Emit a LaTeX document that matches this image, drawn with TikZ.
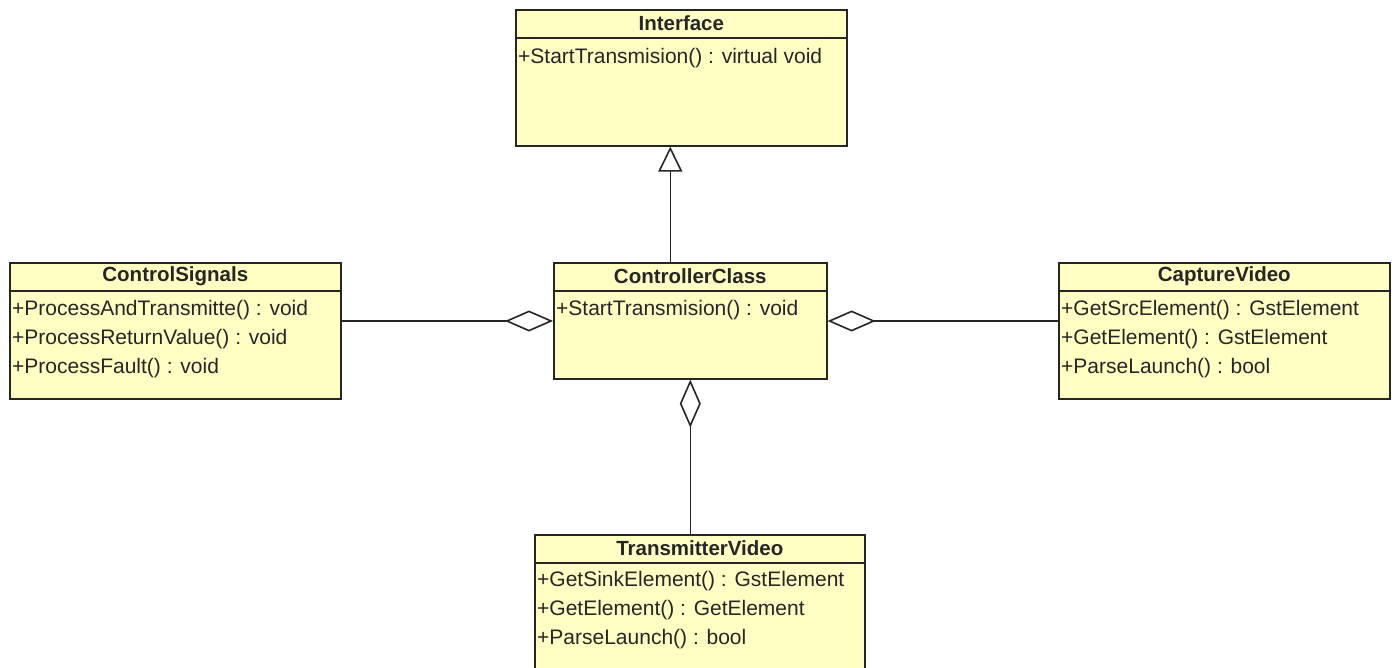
\documentclass[tikz,border=0pt]{standalone}
\usepackage{fontspec}
\setmainfont{Liberation Sans}
\usetikzlibrary{arrows.meta}
\definecolor{umlfill}{HTML}{FFFFC4}
\definecolor{umlline}{HTML}{262626}
\begin{document}
\begin{tikzpicture}[x=1pt,y=-1pt,
  classbox/.style={draw=umlline, fill=umlfill, line width=1.6pt, inner sep=0pt, anchor=north west},
  classtitle/.style={font=\fontsize{20.5}{24}\selectfont\bfseries, text=umlline, inner sep=0pt, anchor=center},
  member/.style={font=\fontsize{21}{24}\selectfont, text=umlline, inner sep=0pt, anchor=west},
  divider/.style={draw=umlline, line width=1.6pt},
  conn/.style={draw=umlline, line width=1.6pt},
  aggregation/.style={conn, {Diamond[open, length=48pt, width=21pt, line width=1.6pt]}-},
  generalization/.style={conn, -{Triangle[open, length=25pt, width=24pt, line width=1.6pt]}}
]
\fill[white] (0,0) rectangle (1395,667);
\clip (0,0) rectangle (1395,667);

% Interface
\node[classbox, minimum width=331pt, minimum height=136pt] (iface) at (515,9) {};
\draw[divider] ([yshift=-29pt]iface.north west) -- ([yshift=-29pt]iface.north east);
\node[classtitle] at ([yshift=-14.5pt]iface.north) {Interface};
\node[member] at ([xshift=3pt,yshift=-49pt]iface.north west) {+StartTransmision() : virtual void};

% ControlSignals
\node[classbox, minimum width=331pt, minimum height=136pt] (cs) at (9,262) {};
\draw[divider] ([yshift=-29pt]cs.north west) -- ([yshift=-29pt]cs.north east);
\node[classtitle] at ([yshift=-14.5pt]cs.north) {ControlSignals};
\node[member] at ([xshift=3pt,yshift=-48pt]cs.north west) {+ProcessAndTransmitte() : void};
\node[member] at ([xshift=3pt,yshift=-77pt]cs.north west) {+ProcessReturnValue() : void};
\node[member] at ([xshift=3pt,yshift=-106pt]cs.north west) {+ProcessFault() : void};

% ControllerClass
\node[classbox, minimum width=273pt, minimum height=116pt] (ctrl) at (553,262) {};
\draw[divider] ([yshift=-29pt]ctrl.north west) -- ([yshift=-29pt]ctrl.north east);
\node[classtitle] at ([yshift=-14.5pt]ctrl.north) {ControllerClass};
\node[member] at ([xshift=3pt,yshift=-48pt]ctrl.north west) {+StartTransmision() : void};

% CaptureVideo
\node[classbox, minimum width=331pt, minimum height=136pt] (cap) at (1058,262) {};
\draw[divider] ([yshift=-29pt]cap.north west) -- ([yshift=-29pt]cap.north east);
\node[classtitle] at ([yshift=-14.5pt]cap.north) {CaptureVideo};
\node[member] at ([xshift=3pt,yshift=-48pt]cap.north west) {+GetSrcElement() : GstElement};
\node[member] at ([xshift=3pt,yshift=-77pt]cap.north west) {+GetElement() : GstElement};
\node[member] at ([xshift=3pt,yshift=-106pt]cap.north west) {+ParseLaunch() : bool};

% TransmitterVideo
\node[classbox, minimum width=330pt, minimum height=150pt] (tx) at (534,534) {};
\draw[divider] ([yshift=-29pt]tx.north west) -- ([yshift=-29pt]tx.north east);
\node[classtitle] at ([yshift=-14.5pt]tx.north) {TransmitterVideo};
\node[member] at ([xshift=3pt,yshift=-47pt]tx.north west) {+GetSinkElement() : GstElement};
\node[member] at ([xshift=3pt,yshift=-76pt]tx.north west) {+GetElement() : GetElement};
\node[member] at ([xshift=3pt,yshift=-105pt]tx.north west) {+ParseLaunch() : bool};

% Relations
\draw[generalization] ([xshift=-20pt]ctrl.north) -- ([xshift=-20pt]ctrl.north |- iface.south);
\draw[aggregation] ([yshift=-59pt]ctrl.north west) -- ([yshift=-59pt]cs.north east);
\draw[aggregation] ([yshift=-59pt]ctrl.north east) -- ([yshift=-59pt]cap.north west);
\draw[aggregation] (ctrl.south) -- (ctrl.south |- tx.north);
\end{tikzpicture}
\end{document}
